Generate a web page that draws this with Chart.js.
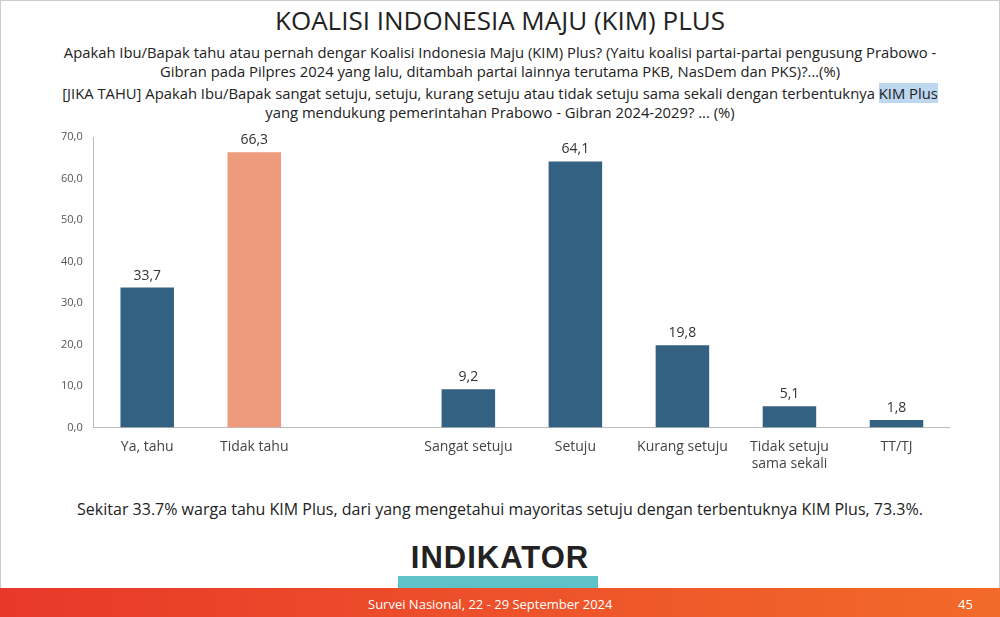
<!DOCTYPE html>
<html><head><meta charset="utf-8">
<script src="https://cdn.jsdelivr.net/npm/chart.js@4"></script>
<style>
body{margin:0;width:1000px;height:617px;background:#fff;font-family:"Open Sans",sans-serif;position:relative;overflow:hidden;border:0}
#frame{position:absolute;left:0;top:0;width:998px;height:615px;border:1px solid #ccc}
#title{position:absolute;top:2px;left:0;width:1000px;text-align:center;font-size:26px;color:#222}
.q{position:absolute;left:30px;width:940px;text-align:center;font-size:14.8px;color:#222;line-height:19px}
#chartwrap{position:absolute;left:58px;top:127px;width:892px;height:348px}
#note{position:absolute;top:498px;left:0;width:1000px;text-align:center;font-size:16px;color:#222}
#logo{position:absolute;top:540px;left:0;width:1000px;text-align:center;font-family:"Liberation Sans",Arial;font-weight:bold;font-size:31px;letter-spacing:1px;color:#222}
#teal{position:absolute;left:398px;top:576px;width:200px;height:14px;background:#5ec3c8}
#footer{position:absolute;left:0;top:588px;width:1000px;height:29px;background:linear-gradient(90deg,#e8382a,#f26a2a)}
#footer span{position:absolute;top:7px;color:#fff;font-size:13px}
</style></head><body>
<div id="frame"></div>
<div id="title">KOALISI INDONESIA MAJU (KIM) PLUS</div>
<div class="q" style="top:43px">Apakah Ibu/Bapak tahu atau pernah dengar Koalisi Indonesia Maju (KIM) Plus? (Yaitu koalisi partai-partai pengusung Prabowo -<br>Gibran pada Pilpres 2024 yang lalu, ditambah partai lainnya terutama PKB, NasDem dan PKS)?…(%)</div>
<div class="q" style="top:84px">[JIKA TAHU] Apakah Ibu/Bapak sangat setuju, setuju, kurang setuju atau tidak setuju sama sekali dengan terbentuknya <span style="background:#bcd7ee">KIM Plus</span><br>yang mendukung pemerintahan Prabowo - Gibran 2024-2029? ... (%)</div>
<div id="chartwrap"><canvas id="c"></canvas></div>
<div id="note">Sekitar 33.7% warga tahu KIM Plus, dari yang mengetahui mayoritas setuju dengan terbentuknya KIM Plus, 73.3%.</div>
<div id="teal"></div>
<div id="logo">INDIKATOR</div>
<div id="footer"><span style="left:368px">Survei Nasional, 22 - 29 September 2024</span><span style="left:958px">45</span></div>
<script>
const categories=[["Ya, tahu"],["Tidak tahu"],[""],["Sangat setuju"],["Setuju"],["Kurang setuju"],["Tidak setuju","sama sekali"],["TT/TJ"]];
const values=[33.7,66.3,null,9.2,64.1,19.8,5.1,1.8];
const colors=["#336181","#ee9a7c","#336181","#336181","#336181","#336181","#336181","#336181"];
const yTicks=[0,10,20,30,40,50,60,70];
const labelPlugin={id:'lbl',afterDatasetsDraw(ch){const c=ch.ctx;const m=ch.getDatasetMeta(0);c.save();c.font='14px "Open Sans"';c.fillStyle='#333';c.textAlign='center';c.textBaseline='bottom';
m.data.forEach((b,i)=>{if(values[i]==null)return;c.fillText(values[i].toFixed(1).replace('.',','),b.x,b.y-5);});c.restore();}};
new Chart(document.getElementById('c'),{
  type:'bar',
  data:{labels:categories,datasets:[{data:values,backgroundColor:colors,barPercentage:0.5,categoryPercentage:1}]},
  options:{
    responsive:true,maintainAspectRatio:false,animation:false,
    layout:{padding:{top:10}},
    plugins:{legend:{display:false},tooltip:{enabled:false}},
    scales:{
      y:{min:0,max:70,afterBuildTicks(a){a.ticks=yTicks.map(v=>({value:v}));},
         ticks:{callback:v=>Number(v).toFixed(1).replace('.',','),color:'#555',font:{size:11,family:'"Open Sans"'}},
         grid:{display:false},border:{display:true,color:'#bbb'}},
      x:{ticks:{color:'#444',font:{size:14,family:'"Open Sans"'}},grid:{display:false},border:{color:'#bbb'}}
    }
  },
  plugins:[labelPlugin]
});
</script></body></html>
